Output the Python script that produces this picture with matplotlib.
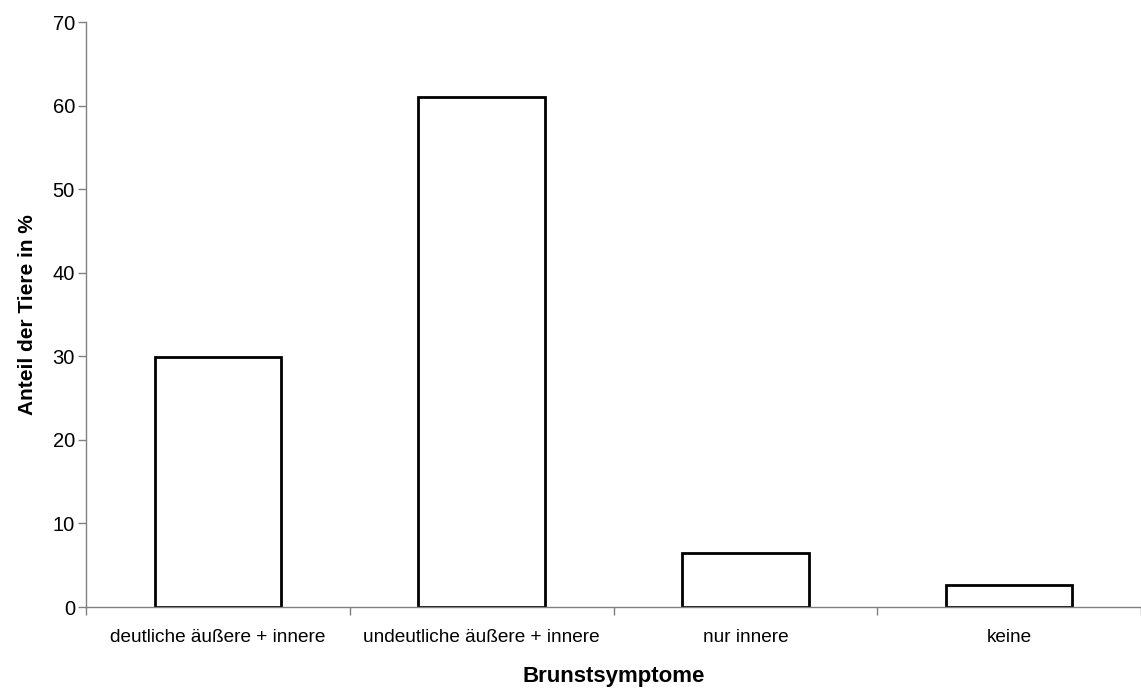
import matplotlib
matplotlib.use("Agg")
import matplotlib.pyplot as plt
import numpy as np

categories = ["deutliche äußere + innere", "undeutliche äußere + innere", "nur innere", "keine"]
values = [29.9, 61.0, 6.5, 2.6]

plt.rcParams["font.family"] = ["Liberation Sans", "DejaVu Sans"]

fig = plt.figure(figsize=(11.41, 6.88), dpi=100)
ax = fig.add_axes([0.0754, 0.1177, 0.9246, 0.850])

x = np.arange(len(categories))
ax.bar(x, values, width=0.48, color="white", edgecolor="black", linewidth=2)

ax.set_xlim(-0.5, 3.477)
ax.set_ylim(0, 70)
ax.set_yticks(range(0, 71, 10))

# category labels centred, tick marks at category boundaries
ax.set_xticks(x)
ax.set_xticklabels(categories, fontsize=13.7)
ax.tick_params(axis="x", which="major", length=0, pad=16)
ax.set_xticks(np.arange(-0.5, 3.6, 1.0), minor=True)
ax.tick_params(axis="x", which="minor", length=6, color="#808080", width=1)
ax.tick_params(axis="y", length=6, color="#808080", width=1, labelsize=14.5, pad=2)

for side in ("top", "right"):
    ax.spines[side].set_visible(False)
for side in ("left", "bottom"):
    ax.spines[side].set_color("#808080")
    ax.spines[side].set_linewidth(1)

ax.set_xlabel("Brunstsymptome", fontsize=16, fontweight="bold", labelpad=14)
ax.set_ylabel("Anteil der Tiere in %", fontsize=15, fontweight="bold", labelpad=11)

fig.savefig("out.png", dpi=100)
